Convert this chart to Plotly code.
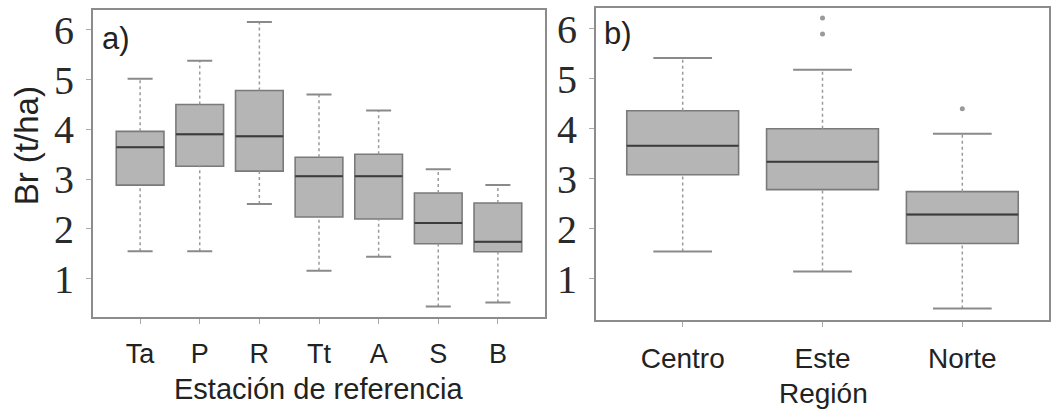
import plotly.graph_objects as go

# ---- Data: panel a (Estación de referencia) ----
est_cats = ["Ta", "P", "R", "Tt", "A", "S", "B"]
est_low = [1.55, 1.55, 2.50, 1.16, 1.44, 0.44, 0.52]
est_q1 = [2.88, 3.26, 3.16, 2.24, 2.20, 1.70, 1.54]
est_med = [3.64, 3.90, 3.86, 3.06, 3.06, 2.12, 1.74]
est_q3 = [3.96, 4.50, 4.78, 3.44, 3.50, 2.72, 2.52]
est_up = [5.02, 5.38, 6.16, 4.70, 4.38, 3.20, 2.88]

# ---- Data: panel b (Región) ----
reg_cats = ["Centro", "Este", "Norte"]
reg_low = [1.54, 1.14, 0.40]
reg_q1 = [3.08, 2.78, 1.70]
reg_med = [3.66, 3.34, 2.28]
reg_q3 = [4.36, 4.00, 2.74]
reg_up = [5.42, 5.18, 3.90]
reg_out_cat = ["Este", "Este", "Norte"]
reg_out_val = [6.22, 5.90, 4.40]

y_ticks = [1, 2, 3, 4, 5, 6]

FILL = "#b5b5b5"
EDGE = "#7a7a7a"
MED = "#3c3c3c"
WHISK = "#9a9a9a"
CAP = "#8a8a8a"
FRAME = "#8c8c8c"

BOX_W = 0.8
CAP_HW = 0.21

fig = go.Figure()


def add_panel(cats, low, q1, med, q3, up, xa, ya):
    xs = list(range(len(cats)))
    for i in xs:
        fig.add_trace(go.Box(
            x=[i], q1=[q1[i]], median=[med[i]], q3=[q3[i]],
            lowerfence=[q1[i]], upperfence=[q3[i]],
            width=BOX_W, whiskerwidth=0,
            fillcolor=FILL, line=dict(color=EDGE, width=1.6),
            xaxis=xa, yaxis=ya, showlegend=False, hoverinfo="skip",
            boxpoints=False,
        ))
    wx, wy, cx, cy, mx, my = [], [], [], [], [], []
    for i in xs:
        wx += [i, i, None, i, i, None]
        wy += [q3[i], up[i], None, low[i], q1[i], None]
        cx += [i - CAP_HW, i + CAP_HW, None, i - CAP_HW, i + CAP_HW, None]
        cy += [up[i], up[i], None, low[i], low[i], None]
        mx += [i - BOX_W / 2, i + BOX_W / 2, None]
        my += [med[i], med[i], None]
    fig.add_trace(go.Scatter(x=wx, y=wy, mode="lines",
                             line=dict(color=WHISK, width=1.5, dash="dot"),
                             xaxis=xa, yaxis=ya, showlegend=False, hoverinfo="skip"))
    fig.add_trace(go.Scatter(x=cx, y=cy, mode="lines",
                             line=dict(color=CAP, width=2),
                             xaxis=xa, yaxis=ya, showlegend=False, hoverinfo="skip"))
    fig.add_trace(go.Scatter(x=mx, y=my, mode="lines",
                             line=dict(color=MED, width=2),
                             xaxis=xa, yaxis=ya, showlegend=False, hoverinfo="skip"))


add_panel(est_cats, est_low, est_q1, est_med, est_q3, est_up, "x", "y")
add_panel(reg_cats, reg_low, reg_q1, reg_med, reg_q3, reg_up, "x2", "y2")

fig.add_trace(go.Scatter(
    x=[reg_cats.index(c) for c in reg_out_cat], y=reg_out_val, mode="markers",
    marker=dict(color="#999999", size=5), xaxis="x2", yaxis="y2",
    showlegend=False, hoverinfo="skip"))

W, H = 1051, 412
axis_common = dict(showline=True, mirror=True, linecolor=FRAME, linewidth=2,
                   showgrid=False, zeroline=False, ticks="outside",
                   tickcolor="#aaaaaa", ticklen=5, tickwidth=1)

xfont = dict(family="Liberation Sans, Arial, sans-serif", size=27, color="#222222")
yfont = dict(family="Liberation Serif, Times New Roman, serif", size=40, color="#2a2a2a")

fig.update_layout(
    width=W, height=H,
    margin=dict(l=0, r=0, t=0, b=0),
    paper_bgcolor="white", plot_bgcolor="white",
    xaxis=dict(domain=[93 / W, 545 / W], range=[-0.79, 6.79], anchor="y",
               tickvals=list(range(len(est_cats))), ticktext=est_cats,
               tickfont=xfont, ticklabelstandoff=6, **axis_common),
    yaxis=dict(domain=[(H - 317) / H, (H - 8) / H], range=[0.22, 6.4], anchor="x",
               tickvals=y_ticks, tickfont=yfont, ticklabelstandoff=4, **axis_common),
    xaxis2=dict(domain=[596 / W, 1049 / W], range=[-0.62, 2.62], anchor="y2",
                tickvals=list(range(len(reg_cats))), ticktext=reg_cats,
                tickfont=dict(xfont, size=28), ticklabelstandoff=7, **axis_common),
    yaxis2=dict(domain=[(H - 320) / H, (H - 6) / H], range=[0.16, 6.42], anchor="x2",
                tickvals=y_ticks, tickfont=yfont, ticklabelstandoff=4, **axis_common),
)

tfont = dict(family="Liberation Sans, Arial, sans-serif", size=29, color="#222222")
fig.add_annotation(text="Br (t/ha)", x=26 / W, y=(H - 145) / H, xref="paper", yref="paper",
                   textangle=-90, showarrow=False, font=dict(tfont, size=33),
                   xanchor="center", yanchor="middle")
fig.add_annotation(text="Estación de referencia", x=318 / W, y=(H - 389) / H,
                   xref="paper", yref="paper", showarrow=False, font=tfont,
                   xanchor="center", yanchor="middle")
fig.add_annotation(text="Región", x=823 / W, y=(H - 393) / H,
                   xref="paper", yref="paper", showarrow=False, font=dict(tfont, size=28),
                   xanchor="center", yanchor="middle")
fig.add_annotation(text="a)", x=100 / W, y=(H - 37) / H, xref="paper", yref="paper",
                   showarrow=False, font=dict(tfont, size=31), xanchor="left", yanchor="middle")
fig.add_annotation(text="b)", x=602 / W, y=(H - 32) / H, xref="paper", yref="paper",
                   showarrow=False, font=dict(tfont, size=31), xanchor="left", yanchor="middle")

fig.write_html("out.html",
               config={"displayModeBar": False},
               post_script="document.body.style.margin='0px';document.body.style.overflow='hidden';")
